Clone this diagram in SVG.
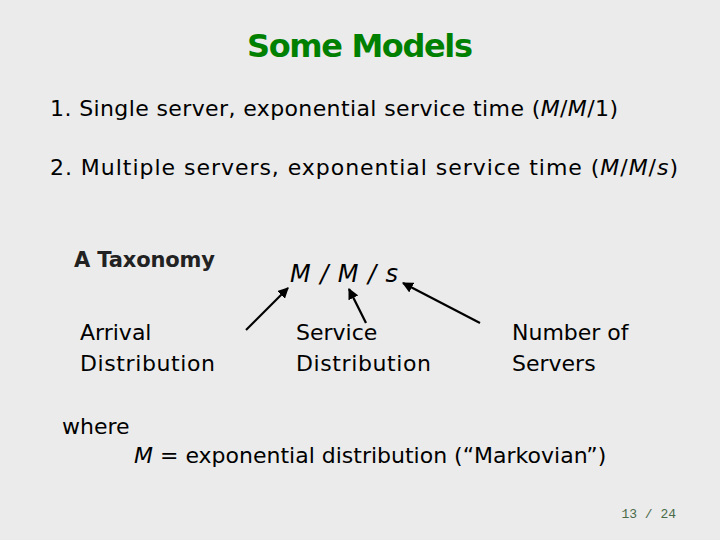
<svg xmlns="http://www.w3.org/2000/svg" width="720" height="540" viewBox="0 0 720 540">
<style>
.t{font-family:"DejaVu Sans","Liberation Sans",sans-serif;fill:#000;font-size:22px}
.i{font-style:italic}
.c{stroke:#000;stroke-width:2.2;fill:none}
</style>
<defs><marker id="a" viewBox="0 0 10 10" refX="9" refY="5" markerWidth="5" markerHeight="5" orient="auto"><path d="M0,0L10,5L0,10z" fill="#000"/></marker></defs>
<rect width="720" height="540" fill="#ebebeb"/>
<g id="title"><text x="360" y="57" text-anchor="middle" class="t" style="fill:#008000;font-size:32px;font-weight:bold" textLength="226">Some Models</text></g>
<g id="list">
<text x="50" y="116" class="t" textLength="568">1.  Single server, exponential service time (<tspan class="i">M</tspan>/<tspan class="i">M</tspan>/1)</text>
<text x="50" y="175" class="t" textLength="628">2.  Multiple servers, exponential service time (<tspan class="i">M</tspan>/<tspan class="i">M</tspan>/<tspan class="i">s</tspan>)</text>
</g>
<g id="taxonomy"><text x="74" y="267" class="t" style="font-weight:bold;font-size:21px;fill:#222" textLength="141">A Taxonomy</text></g>
<g id="mms"><text x="290" y="282" class="t i" style="font-size:24px" textLength="108">M / M / s</text></g>
<g id="arrival"><text x="80" y="340" class="t">Arrival</text><text x="80" y="371" class="t" textLength="135">Distribution</text></g>
<g id="service"><text x="296" y="340" class="t">Service</text><text x="296" y="371" class="t" textLength="135">Distribution</text></g>
<g id="servers"><text x="512" y="340" class="t">Number of</text><text x="512" y="371" class="t">Servers</text></g>
<g id="connectors">
<line x1="246" y1="330" x2="288" y2="288" class="c" marker-end="url(#a)"/>
<line x1="366" y1="323" x2="349" y2="289" class="c" marker-end="url(#a)"/>
<line x1="480" y1="323" x2="403" y2="283" class="c" marker-end="url(#a)"/>
</g>
<g id="where">
<text x="62" y="434" class="t">where</text>
<text x="134" y="463" class="t"><tspan class="i">M</tspan> = exponential distribution (“Markovian”)</text>
</g>
<g id="page"><text x="676" y="518" text-anchor="end" style="font-family:'Liberation Mono',monospace;font-size:13px;fill:#4a6a4a">13 / 24</text></g>
</svg>
